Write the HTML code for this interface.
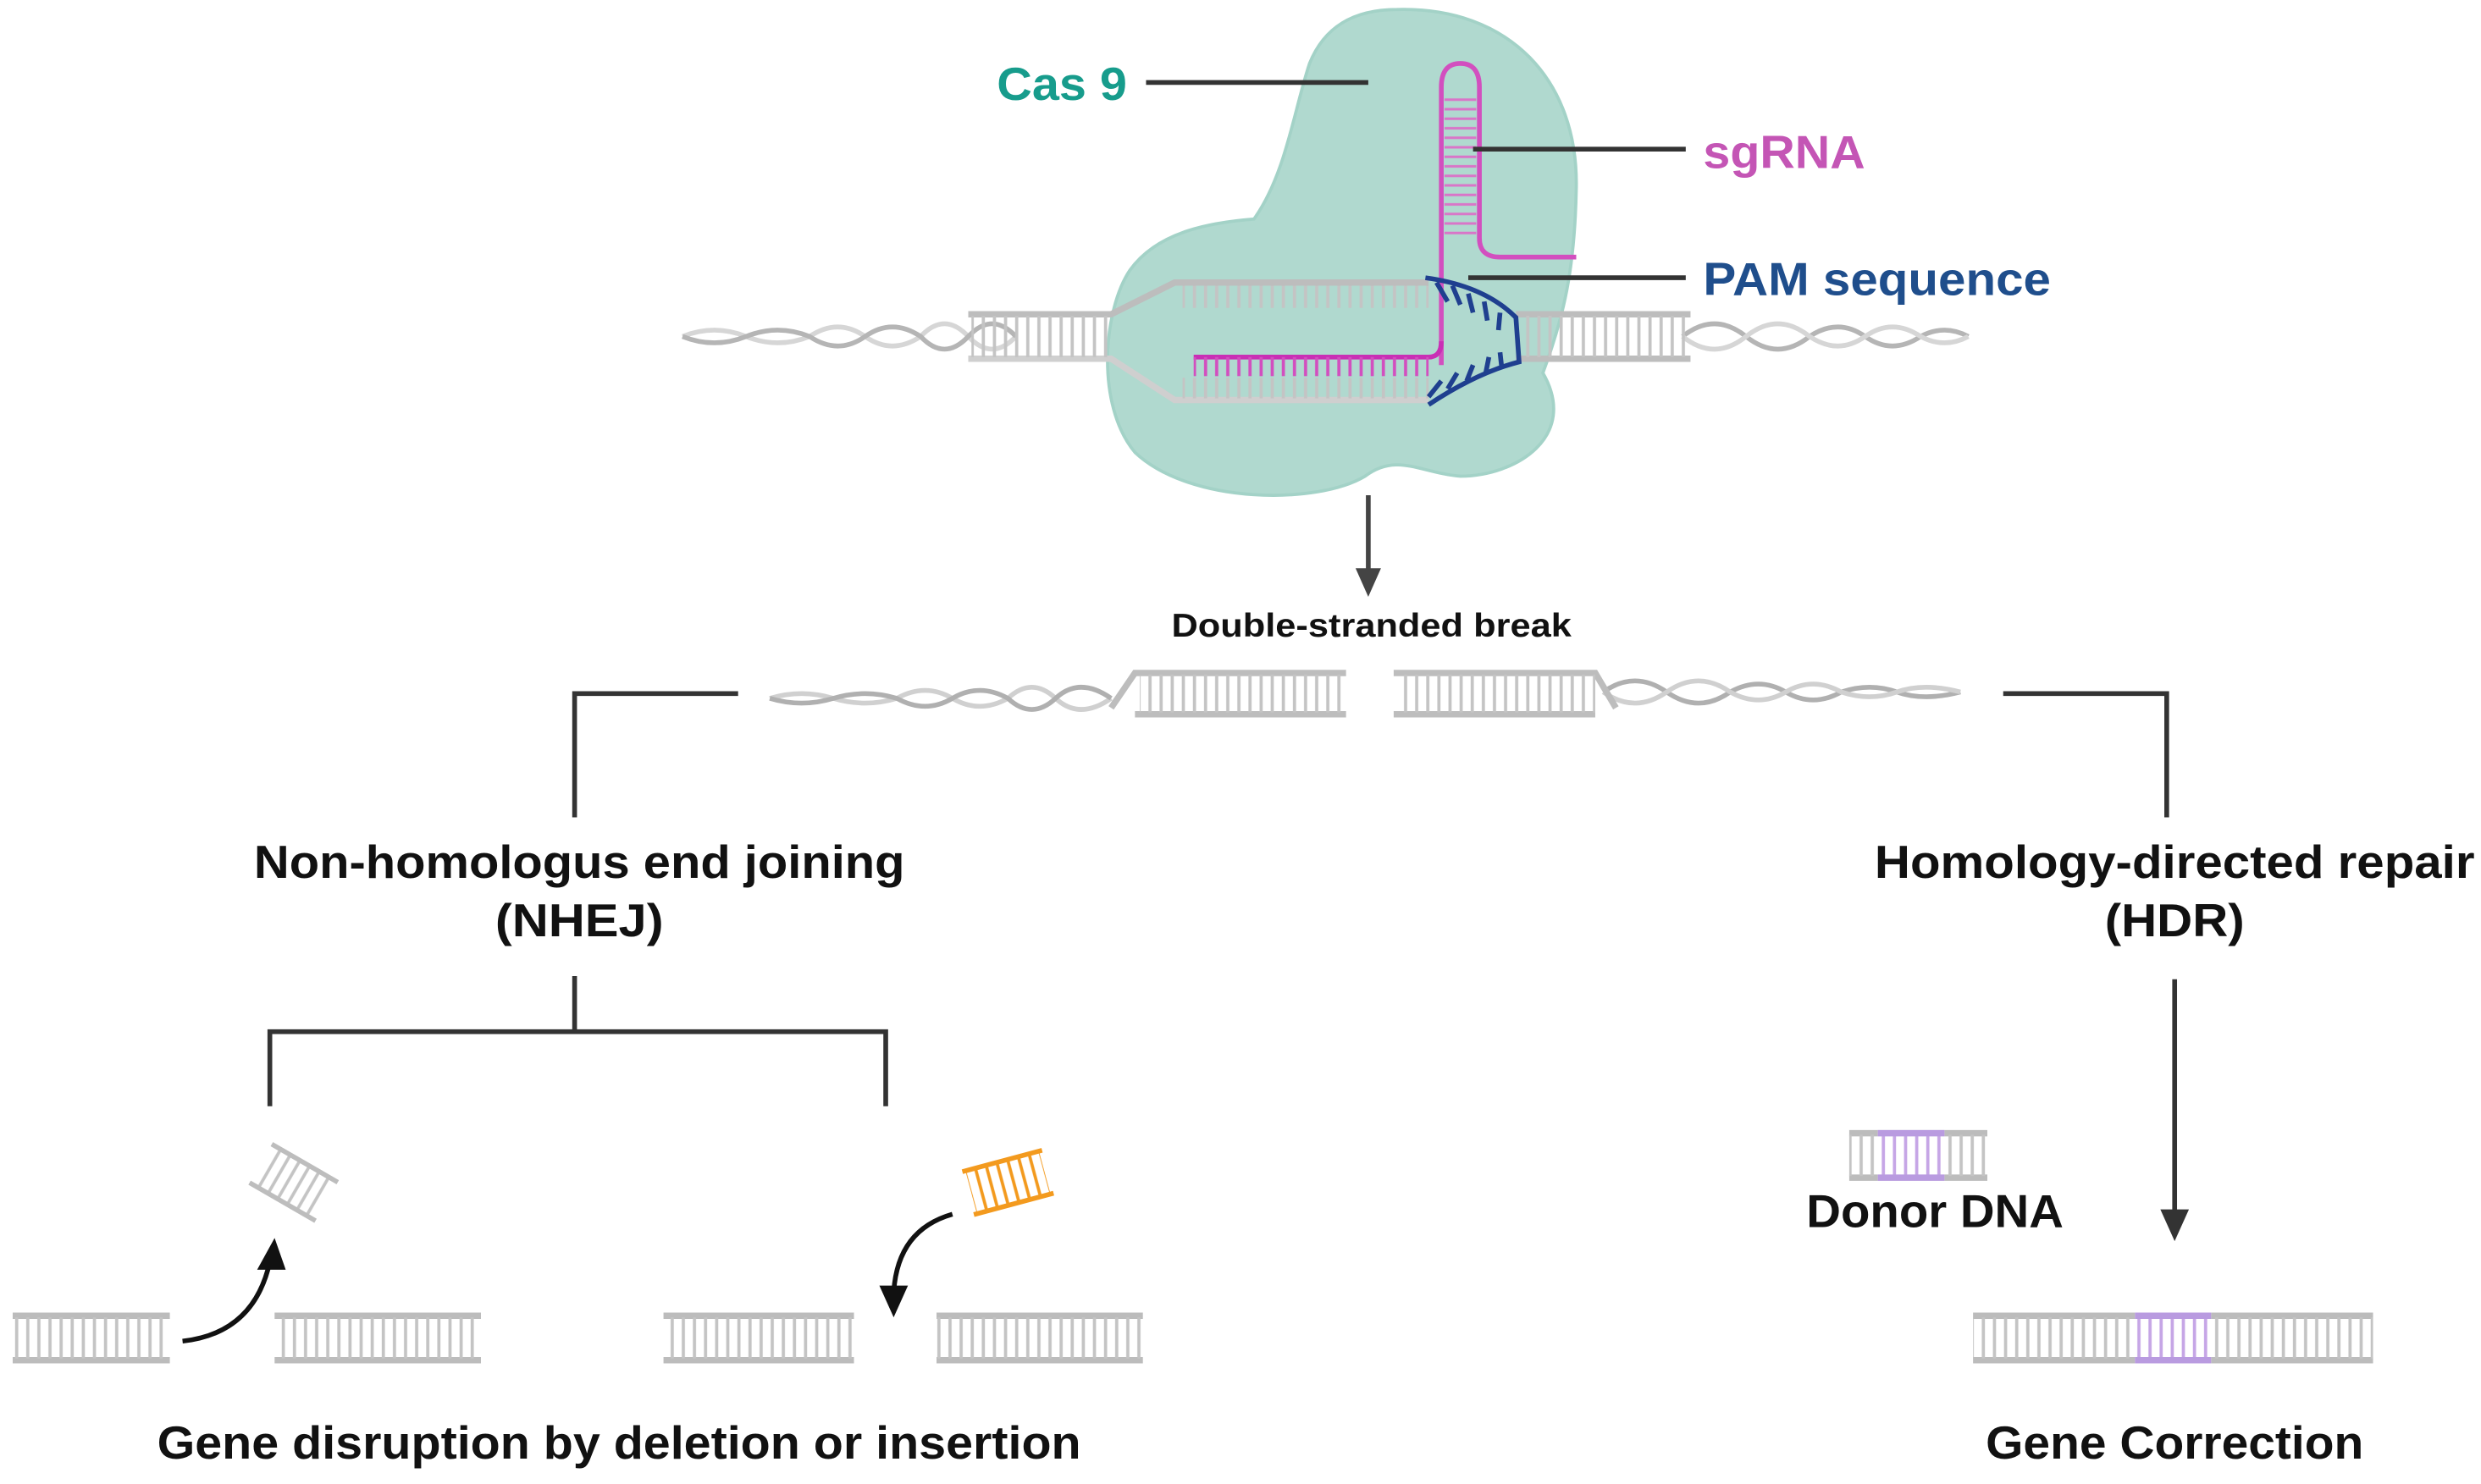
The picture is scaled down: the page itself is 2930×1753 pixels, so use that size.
<!DOCTYPE html>
<html><head><meta charset="utf-8"><style>
html,body{margin:0;padding:0;background:#fff;}
svg{display:block;}
text{font-family:"Liberation Sans",sans-serif;font-weight:bold;}
</style></head><body>
<svg width="2930" height="1753" viewBox="0 0 1563 935" preserveAspectRatio="none" xmlns="http://www.w3.org/2000/svg">
<defs>
<pattern id="rg" width="7" height="40" patternUnits="userSpaceOnUse"><rect x="2.5" y="0" width="2" height="40" fill="#c4c4c4"/></pattern>
<pattern id="rp" width="7" height="40" patternUnits="userSpaceOnUse"><rect x="2.5" y="0" width="2" height="40" fill="#c6a6e6"/></pattern>
<pattern id="rm" width="7" height="40" patternUnits="userSpaceOnUse"><rect x="2.5" y="0" width="2" height="40" fill="#d24fbf"/></pattern>
<pattern id="rmh" width="40" height="6" patternUnits="userSpaceOnUse"><rect x="0" y="2" width="40" height="1.6" fill="#d975c8"/></pattern>
<pattern id="ro" width="7" height="40" patternUnits="userSpaceOnUse"><rect x="2.5" y="0" width="2" height="40" fill="#f39a1e"/></pattern>
</defs>

<!-- Cas9 blob -->
<path d="M880,6 C950,4 995,50 993,120 C992,170 985,200 972,235 C995,275 955,300 920,300 C895,298 880,285 860,300 C830,318 750,318 715,285 C690,255 695,195 712,170 C730,145 765,140 790,138 C810,110 815,70 825,40 C835,15 855,6 880,6 Z" fill="#b0d9cf" stroke="#a3d2c7" stroke-width="2"/>

<!-- top DNA helix -->
<g fill="none" stroke="#c2c2c2" stroke-width="3">
<path d="M430,212 q20,-8 40,0 t40,0 q18,-12 35,0 t35,0 q15,-16 30,0 t30,0" stroke="#d6d6d6"/>
<path d="M430,212 q20,8 40,0 t40,0 q18,12 35,0 t35,0 q15,16 30,0 t30,0" stroke="#b5b5b5"/>
<path d="M1060,212 q20,-16 40,0 t40,0 q18,-12 35,0 t35,0 q15,-8 30,0" stroke="#b5b5b5"/>
<path d="M1060,212 q20,16 40,0 t40,0 q18,12 35,0 t35,0 q15,8 30,0" stroke="#d6d6d6"/>
<path d="M610,198 L700,198 L740,178 L900,178" stroke="#bdbdbd" stroke-width="4"/>
<path d="M610,226 L700,226 L740,252 L900,252" stroke="#cfcfcf" stroke-width="4"/>
<path d="M955,198 L1065,198 M955,226 L1065,226" stroke="#bdbdbd" stroke-width="4"/>
</g>
<rect x="612" y="199" width="90" height="26" fill="url(#rg)"/>
<rect x="745" y="180" width="155" height="14" fill="url(#rg)"/>
<rect x="745" y="238" width="155" height="13" fill="url(#rg)"/>
<rect x="958" y="199" width="105" height="26" fill="url(#rg)"/>

<!-- sgRNA -->
<path d="M908,230 L908,55 Q908,40 920,40 Q932,40 932,55 L932,150 Q932,162 945,162 L993,162" fill="none" stroke="#d24fbf" stroke-width="3"/>
<rect x="910" y="60" width="20" height="90" fill="url(#rmh)"/>
<path d="M752,225 L900,225 Q908,225 908,215" fill="none" stroke="#c92fb5" stroke-width="3"/>
<rect x="752" y="225" width="148" height="12" fill="url(#rm)"/>
<!-- PAM -->
<g fill="none" stroke="#1f3f8f" stroke-width="3">
<path d="M898,175 Q935,180 955,200 L957,228 Q930,235 900,255"/>
<path d="M905,178 L912,190 M915,180 L920,192 M925,185 L928,197 M935,190 L937,202 M945,197 L944,208 M900,250 L908,240 M912,245 L918,235 M924,240 L928,230 M936,235 L938,225 M946,231 L945,222"/>
</g>

<!-- label lines -->
<g stroke="#333" stroke-width="3">
<line x1="722" y1="52" x2="862" y2="52"/>
<line x1="928" y1="94" x2="1062" y2="94"/>
<line x1="925" y1="175" x2="1062" y2="175"/>
</g>
<text x="628" y="63" font-size="29" fill="#179c8c" textLength="82" lengthAdjust="spacingAndGlyphs">Cas 9</text>
<text x="1073" y="106" font-size="29" fill="#c455b5" textLength="102" lengthAdjust="spacingAndGlyphs">sgRNA</text>
<text x="1073" y="186" font-size="29" fill="#1f4e8c" textLength="219" lengthAdjust="spacingAndGlyphs">PAM sequence</text>

<!-- down arrow -->
<line x1="862" y1="312" x2="862" y2="362" stroke="#444" stroke-width="3"/>
<path d="M854,358 L870,358 L862,376 Z" fill="#444"/>
<text x="738" y="401" font-size="21" fill="#111" textLength="252" lengthAdjust="spacingAndGlyphs">Double-stranded break</text>

<!-- broken DNA -->
<g fill="none" stroke-width="3">
<path d="M485,440 q20,-6 40,0 t40,0 q18,-10 35,0 t35,0 q15,-14 30,0 t35,0" stroke="#d0d0d0"/>
<path d="M485,440 q20,6 40,0 t40,0 q18,10 35,0 t35,0 q15,14 30,0 t35,0" stroke="#b0b0b0"/>
<path d="M1010,436 q20,-14 40,0 t40,0 q18,-10 35,0 t35,0 q18,-6 35,0 t40,0" stroke="#b0b0b0"/>
<path d="M1010,436 q20,14 40,0 t40,0 q18,10 35,0 t35,0 q18,6 35,0 t40,0" stroke="#d0d0d0"/>
<path d="M700,446 L715,424 L848,424 M715,450 L848,450 M878,424 L1005,424 L1018,446 M878,450 L1005,450" stroke="#bdbdbd" stroke-width="4"/>
</g>
<rect x="718" y="425" width="128" height="24" fill="url(#rg)"/>
<rect x="880" y="425" width="125" height="24" fill="url(#rg)"/>

<!-- brackets -->
<g fill="none" stroke="#333" stroke-width="3">
<path d="M465,437 L362,437 L362,515"/>
<path d="M1262,437 L1365,437 L1365,515"/>
<path d="M362,615 L362,650 M170,697 L170,650 L558,650 L558,697"/>
<line x1="1370" y1="617" x2="1370" y2="765"/>
</g>
<path d="M1361,762 L1379,762 L1370,782 Z" fill="#333"/>

<text x="365" y="553" font-size="29" fill="#111" text-anchor="middle" textLength="410" lengthAdjust="spacingAndGlyphs">Non-homologus end joining</text>
<text x="365" y="590" font-size="29" fill="#111" text-anchor="middle" textLength="106" lengthAdjust="spacingAndGlyphs">(NHEJ)</text>
<text x="1370" y="553" font-size="29" fill="#111" text-anchor="middle" textLength="378" lengthAdjust="spacingAndGlyphs">Homology-directed repair</text>
<text x="1370" y="590" font-size="29" fill="#111" text-anchor="middle" textLength="88" lengthAdjust="spacingAndGlyphs">(HDR)</text>

<!-- fragments -->
<g transform="translate(185,745) rotate(30)">
<rect x="-22" y="-13" width="44" height="26" fill="url(#rg)"/>
<path d="M-24,-14 L24,-14 M-24,14 L24,14" stroke="#bdbdbd" stroke-width="3"/>
</g>
<g transform="translate(635,745) rotate(-15)">
<rect x="-24" y="-13" width="48" height="26" fill="url(#ro)"/>
<path d="M-26,-14 L26,-14 M-26,14 L26,14" stroke="#f39a1e" stroke-width="3"/>
</g>

<!-- curved arrows -->
<path d="M115,845 Q160,840 170,795" fill="none" stroke="#111" stroke-width="3"/>
<path d="M162,800 L180,800 L173,780 Z" fill="#111"/>
<path d="M600,765 Q565,775 563,815" fill="none" stroke="#111" stroke-width="3"/>
<path d="M554,810 L572,810 L563,830 Z" fill="#111"/>

<!-- bottom ladders -->
<g stroke="#bcbcbc" stroke-width="4">
<path d="M8,829 L107,829 M8,857 L107,857"/>
<path d="M173,829 L303,829 M173,857 L303,857"/>
<path d="M418,829 L538,829 M418,857 L538,857"/>
<path d="M590,829 L720,829 M590,857 L720,857"/>
<path d="M1243,829 L1495,829 M1243,857 L1495,857"/>
<path d="M1165,714 L1252,714 M1165,742 L1252,742"/>
</g>
<rect x="8" y="830" width="99" height="26" fill="url(#rg)"/>
<rect x="173" y="830" width="130" height="26" fill="url(#rg)"/>
<rect x="418" y="830" width="120" height="26" fill="url(#rg)"/>
<rect x="590" y="830" width="130" height="26" fill="url(#rg)"/>
<rect x="1243" y="830" width="252" height="26" fill="url(#rg)"/>
<rect x="1165" y="715" width="87" height="26" fill="url(#rg)"/>
<rect x="1345" y="827" width="48" height="32" fill="#fff"/>
<rect x="1345" y="830" width="48" height="26" fill="url(#rp)"/>
<path d="M1345,829 L1393,829 M1345,857 L1393,857" stroke="#b99be0" stroke-width="4"/>
<rect x="1183" y="712" width="42" height="32" fill="#fff"/>
<rect x="1183" y="715" width="42" height="26" fill="url(#rp)"/>
<path d="M1183,714 L1225,714 M1183,742 L1225,742" stroke="#b99be0" stroke-width="4"/>

<text x="1138" y="773" font-size="29" fill="#111" textLength="162" lengthAdjust="spacingAndGlyphs">Donor DNA</text>
<text x="390" y="919" font-size="29" fill="#111" text-anchor="middle" textLength="582" lengthAdjust="spacingAndGlyphs">Gene disruption by deletion or insertion</text>
<text x="1370" y="919" font-size="29" fill="#111" text-anchor="middle" textLength="238" lengthAdjust="spacingAndGlyphs">Gene Correction</text>
</svg>
</body></html>
